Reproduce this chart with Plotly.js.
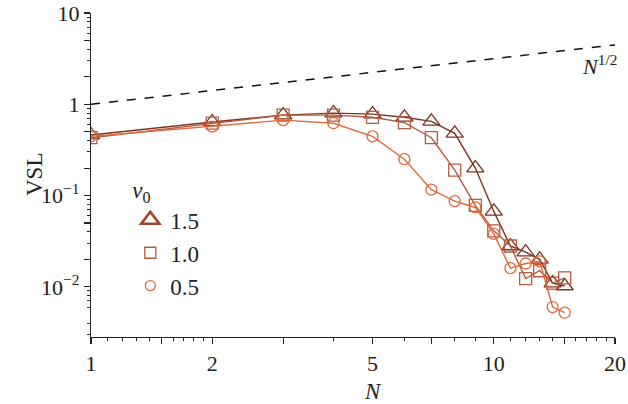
<!DOCTYPE html>
<html>
<head>
<meta charset="utf-8">
<script src="https://cdn.plot.ly/plotly-3.0.1.min.js"></script>
<style>html,body{margin:0;padding:0;background:#fff}#chart{width:628px;height:404px}</style>
</head>
<body>
<div id="chart"></div>
<script>
// Data
const N = [1, 2, 3, 4, 5, 6, 7, 8, 9, 10, 11, 12, 13, 14, 15];
const vsl_15 = [0.46, 0.64, 0.76, 0.80, 0.78, 0.72, 0.65, 0.48, 0.20, 0.067, 0.028, 0.024, 0.020, 0.011, 0.0102];
const vsl_10 = [0.43, 0.62, 0.76, 0.76, 0.72, 0.63, 0.43, 0.19, 0.078, 0.041, 0.028, 0.0123, 0.015, 0.011, 0.0125];
const vsl_05 = [0.445, 0.57, 0.67, 0.62, 0.445, 0.25, 0.116, 0.087, 0.074, 0.038, 0.016, 0.018, 0.019, 0.006, 0.0052];
const refN = [1, 20];
const refVSL = [1, 4.472];
const seriesNames = ['1.5', '1.0', '0.5'];
const xTickVals = [1, 1.5, 2, 3, 5, 7, 10, 15, 20];
const xTickText = ['1', '', '2', '', '5', '', '10', '', '20'];
const xMinorVals = [1.1, 1.2, 1.3, 1.4, 1.6, 1.7, 1.8, 1.9, 4, 6, 8, 9, 11, 12, 13, 14, 16, 17, 18, 19];
const yTickVals = [0.01, 0.02, 0.05, 0.1, 0.2, 0.5, 1, 2, 5, 10];
const yTickText = ['10<sup>\u22122</sup>', '', '', '10<sup>\u22121</sup>', '', '', '1', '', '', '10'];
const yMinorVals = [0.003, 0.004, 0.006, 0.007, 0.008, 0.009, 0.03, 0.04, 0.06, 0.07, 0.08, 0.09, 0.3, 0.4, 0.6, 0.7, 0.8, 0.9, 3, 4, 6, 7, 8, 9];

const colors = ['#7c3421', '#b75a3f', '#df6b3a'];
const symbols = ['triangle-up-open', 'square-open', 'circle-open'];
const sizes = [15, 12, 11];
const legendSizes = [18, 11, 10];
const data = [
  {x: refN, y: refVSL, mode: 'lines', line: {color: '#111', width: 1.5, dash: 'dash'}, showlegend: false, hoverinfo: 'skip'}
];
[vsl_15, vsl_10, vsl_05].forEach((ys, i) => {
  data.push({x: N, y: ys, mode: 'lines+markers', showlegend: false,
    line: {color: colors[i], width: 1.4},
    marker: {symbol: symbols[i], size: sizes[i], color: colors[i], line: {width: 1.3, color: colors[i]}}});
});
[0, 1, 2].forEach(i => {
  data.push({x: [null], y: [null], mode: 'markers', name: seriesNames[i],
    marker: {symbol: symbols[i], size: legendSizes[i], color: i === 0 ? '#a3452b' : colors[i] , line: {width: i === 0 ? 2.5 : 1.3, color: i === 0 ? '#a3452b' : colors[i]}}});
});

const font = {family: 'Liberation Serif, Times New Roman, serif', color: '#222', size: 22};
const layout = {
  width: 628, height: 404,
  margin: {l: 91, r: 13, t: 13, b: 67},
  paper_bgcolor: '#fff', plot_bgcolor: '#fff',
  font: font,
  showlegend: true,
  legend: {x: 0.075, y: 0.52, xanchor: 'left', yanchor: 'top', bgcolor: 'rgba(0,0,0,0)',
    font: {family: font.family, size: 23, color: '#222'},
    title: {text: '<i>v</i><sub>0</sub>', font: {family: font.family, size: 23, color: '#222'}},
    itemwidth: 30, tracegroupgap: 0},
  xaxis: {type: 'log', range: [0, Math.log10(20)], showgrid: false, zeroline: false,
    showline: true, linecolor: '#222', linewidth: 1.2, ticks: 'outside', ticklen: 6, tickwidth: 1.1, tickcolor: '#222',
    tickmode: 'array', tickvals: xTickVals, ticktext: xTickText, tickfont: {size: 22},
    minor: {tickmode: 'array', tickvals: xMinorVals, ticks: 'outside', ticklen: 3, tickwidth: 1, tickcolor: '#222', showgrid: false}},
  yaxis: {type: 'log', range: [-2.55, 1], showgrid: false, zeroline: false,
    showline: true, linecolor: '#222', linewidth: 1.2, ticks: 'outside', ticklen: 6, tickwidth: 1.1, tickcolor: '#222',
    tickmode: 'array', tickvals: yTickVals, ticktext: yTickText, tickfont: {size: 22},
    minor: {tickmode: 'array', tickvals: yMinorVals, ticks: 'outside', ticklen: 3, tickwidth: 1, tickcolor: '#222', showgrid: false}},
  annotations: [
    {text: '<i>N</i>', xref: 'x', yref: 'paper', x: Math.log10(5), y: 0, yshift: -54, showarrow: false, yanchor: 'middle', font: {size: 23}},
    {text: 'VSL', xref: 'paper', yref: 'y', x: 0, xshift: -71, y: Math.log10(0.17), showarrow: false, textangle: -90, font: {size: 23}},
    {text: '<i>N</i><sup>1/2</sup>', xref: 'paper', yref: 'paper', x: 1, xshift: 4, y: 0.84, xanchor: 'right', yanchor: 'middle', showarrow: false, font: {size: 22}}
  ]
};
Plotly.newPlot('chart', data, layout, {displayModeBar: false, staticPlot: true});
</script>
</body>
</html>
